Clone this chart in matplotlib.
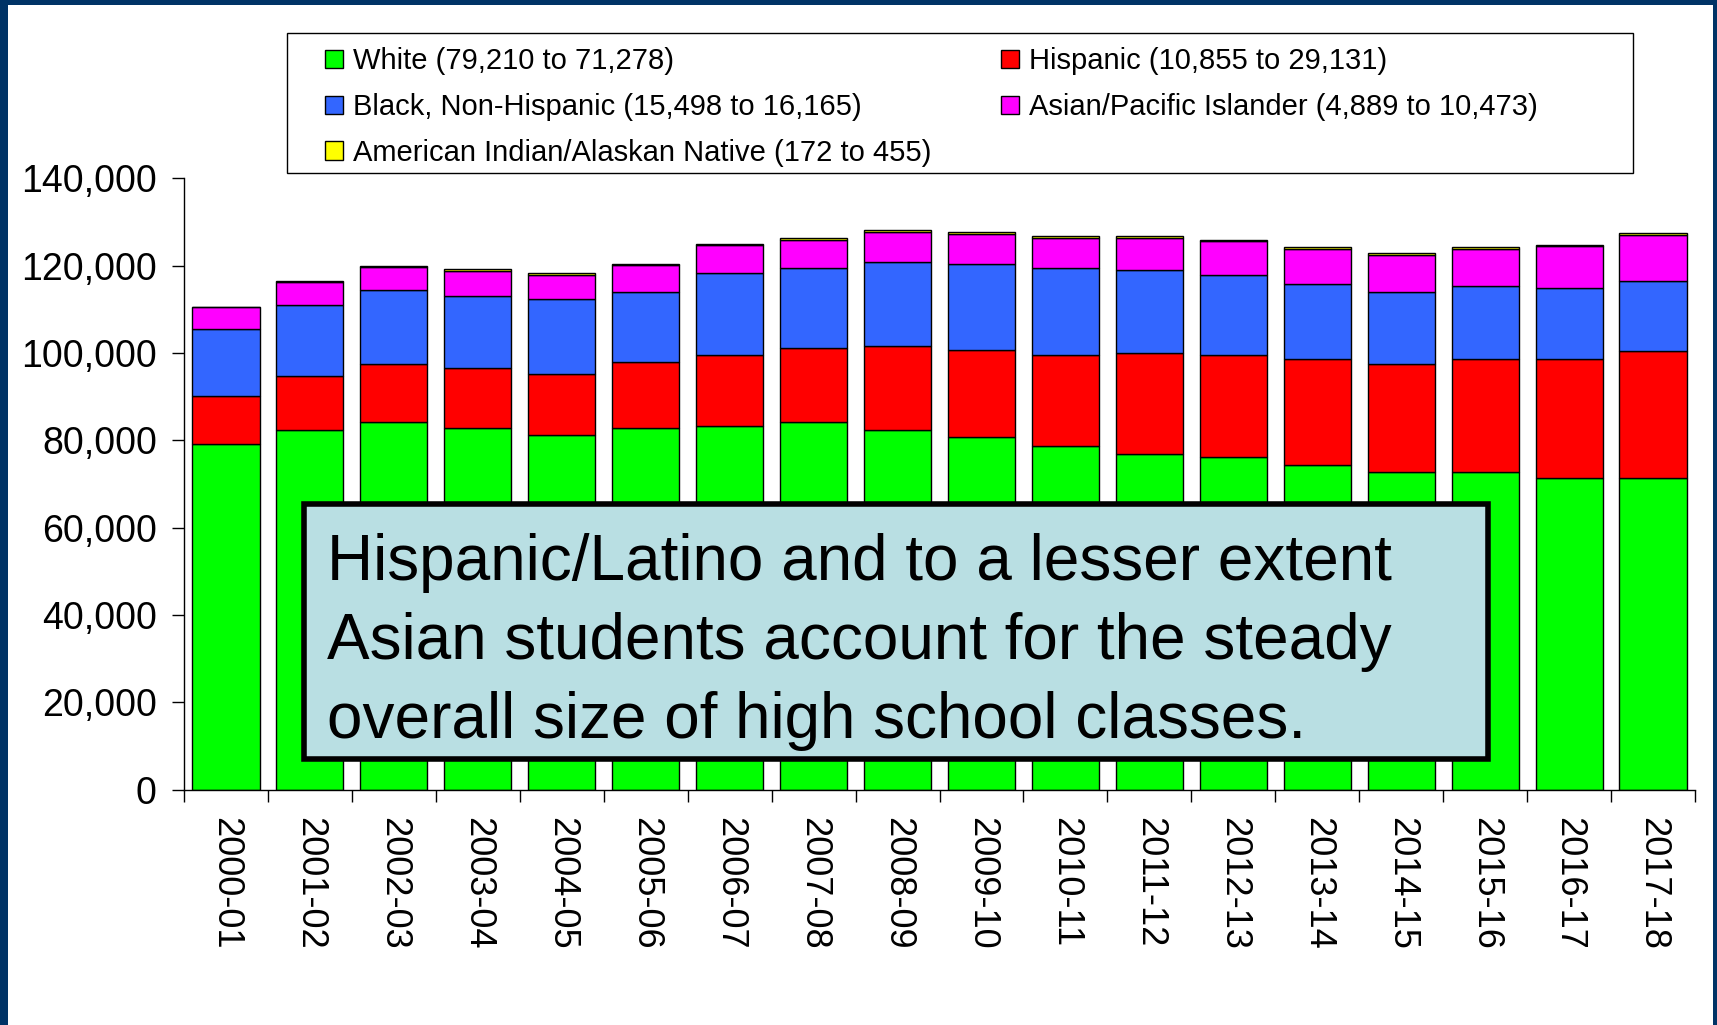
import numpy as np
import matplotlib
matplotlib.use("Agg")
import matplotlib.pyplot as plt
from matplotlib.patches import Rectangle
from matplotlib.ticker import MultipleLocator, FuncFormatter

plt.rcParams['font.family'] = ['Liberation Sans', 'DejaVu Sans']

# graduating class size by race/ethnicity, school years 2000-01 .. 2017-18
years = ['2000-01', '2001-02', '2002-03', '2003-04', '2004-05', '2005-06',
         '2006-07', '2007-08', '2008-09', '2009-10', '2010-11', '2011-12',
         '2012-13', '2013-14', '2014-15', '2015-16', '2016-17', '2017-18']
white = [79210, 82360, 84200, 82900, 81220, 82890, 83350, 84200, 82360,
         80830, 78700, 76860, 76100, 74420, 72670, 72670, 71370, 71278]
hispanic = [10855, 12440, 13200, 13670, 14040, 14980, 16190, 17020, 19320,
            19930, 20840, 23070, 23440, 24210, 24740, 25960, 27260, 29131]
black = [15498, 16200, 17040, 16560, 17040, 16110, 18720, 18330, 19170,
         19640, 20010, 19160, 18260, 17110, 16640, 16650, 16340, 16165]
asian = [4889, 5260, 5260, 5750, 5650, 6100, 6450, 6380, 6900,
         6870, 6800, 7250, 7760, 8060, 8440, 8500, 9580, 10473]
am_indian = [172, 300, 300, 300, 310, 320, 340, 350, 360,
             380, 390, 400, 410, 420, 430, 440, 200, 455]

note = ("Hispanic/Latino and to a lesser extent\n"
        "Asian students account for the steady\n"
        "overall size of high school classes.")

W, H = 1717, 1025
fig = plt.figure(figsize=(W / 100, H / 100), dpi=100)


def fx(px):
    return px / W


def fy(py):
    return 1 - py / H


ax = fig.add_axes([fx(184), fy(789.5), fx(1695) - fx(184), fy(178.4) - fy(789.5)])

series = [
    ('White', white, '#00FF00'),
    ('Hispanic', hispanic, '#FF0000'),
    ('Black, Non-Hispanic', black, '#3366FF'),
    ('Asian/Pacific Islander', asian, '#FF00FF'),
    ('American Indian/Alaskan Native', am_indian, '#FFFF00'),
]

x = np.arange(len(years))
bottom = np.zeros(len(years))
containers = {}
for name, vals, color in series:
    vals = np.array(vals, dtype=float)
    containers[name] = ax.bar(x, vals, 0.8, bottom=bottom, color=color,
                              edgecolor='black', linewidth=1.0)
    containers[name].set_label(f"{name} ({vals[0]:,.0f} to {vals[-1]:,.0f})")
    bottom += vals

ax.set_xlim(-0.5, len(years) - 0.5)
ax.set_ylim(0, 140000)
ax.yaxis.set_major_locator(MultipleLocator(20000))
ax.yaxis.set_major_formatter(FuncFormatter(lambda v, p: f"{v:,.0f}"))
ax.tick_params(axis='y', length=8.6, width=1, pad=11, labelsize=27, direction='out')

ax.set_xticks(x)
ax.set_xticklabels(years, rotation=270, fontsize=26)
ax.set_xticks(np.arange(-0.5, len(years), 1), minor=True)
ax.tick_params(axis='x', which='major', length=0, pad=20)
ax.tick_params(axis='x', which='minor', length=8.6, width=1, direction='out')

for side in ['top', 'right']:
    ax.spines[side].set_visible(False)
for side in ['left', 'bottom']:
    ax.spines[side].set_linewidth(1.0)

# legend: two columns, framed box wider than its content
order = ['White', 'Black, Non-Hispanic', 'American Indian/Alaskan Native',
         'Hispanic', 'Asian/Pacific Islander']
handles = [containers[k] for k in order]
fig.legend(handles, [h.get_label() for h in handles], ncol=2, loc='upper left',
           bbox_to_anchor=(fx(325), fy(47.4)), frameon=False, fontsize=21,
           handlelength=0.607, handleheight=0.607, handletextpad=0.35,
           columnspacing=2.4, labelspacing=0.61, borderpad=0, borderaxespad=0)
fig.add_artist(Rectangle((fx(287), fy(173)), fx(1633) - fx(287), fy(33) - fy(173),
                         transform=fig.transFigure, fill=False,
                         edgecolor='black', linewidth=1.0))

# callout box over the bars
fig.add_artist(Rectangle((fx(303.8), fy(759)), fx(1488) - fx(303.8), fy(503.8) - fy(759),
                         transform=fig.transFigure, facecolor='#B9DFE3',
                         edgecolor='black', linewidth=4, zorder=3))
fig.text(fx(327), fy(532.7), note, fontsize=46, ha='left', va='top',
         linespacing=1.41, zorder=4)

# dark slide frame
navy = '#003366'
fig.add_artist(Rectangle((0, 0), fx(7.5), 1, transform=fig.transFigure,
                         facecolor=navy, edgecolor='none', zorder=5))
fig.add_artist(Rectangle((0, fy(5)), 1, fy(0) - fy(5), transform=fig.transFigure,
                         facecolor=navy, edgecolor='none', zorder=5))
fig.add_artist(Rectangle((fx(1712.5), 0), fx(W) - fx(1712.5), 1, transform=fig.transFigure,
                         facecolor=navy, edgecolor='none', zorder=5))

fig.savefig('out.png', dpi=100)
